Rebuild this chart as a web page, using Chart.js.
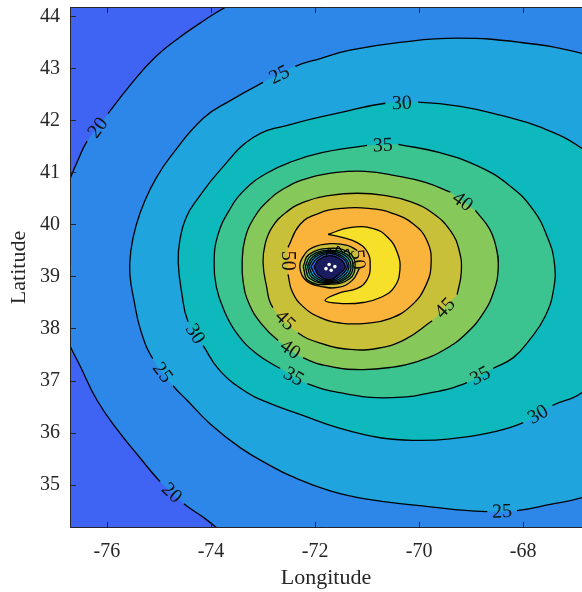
<!DOCTYPE html>
<html>
<head>
<meta charset="utf-8">
<script src="https://cdn.jsdelivr.net/npm/chart.js@4.4.1/dist/chart.umd.min.js"></script>
<style>
  html, body { margin: 0; padding: 0; background: #fff; }
  #wrap { width: 582px; height: 592px; }
</style>
</head>
<body>
<div id="wrap"><canvas id="contourChart"></canvas></div>
<script>
// contour lines (lon, lat); outer ones run outside the frame to close
const c20Lon = [-73.60, -73.87, -74.12, -74.52, -74.98, -75.37, -75.79, -76.19, -76.52, -76.71, -77.06, -77.17, -77.06, -76.71, -76.56, -76.38, -75.98, -75.56, -75.08, -74.60, -74.21, -73.92, -73.60, -73.06, -64.60, -64.60, -73.06, -73.60];
const c20Lat = [33.92, 34.15, 34.35, 34.63, 35.06, 35.52, 36.04, 36.62, 37.29, 37.67, 38.54, 39.27, 40.04, 40.88, 41.23, 41.60, 42.13, 42.67, 43.21, 43.60, 43.87, 44.06, 44.25, 44.60, 46.23, 30.85, 33.35, 33.92];

const c25Lon = [-62.48, -63.63, -65.56, -66.87, -67.48, -68.12, -68.69, -69.31, -70.04, -70.94, -71.71, -72.48, -72.87, -73.44, -74.02, -74.46, -74.73, -75.12, -75.35, -75.48, -75.56, -75.54, -75.44, -75.27, -75.06, -74.79, -74.15, -73.63, -73.00, -72.38, -71.90, -71.33, -70.37, -69.27, -68.06, -66.87, -65.56, -63.63, -62.48];
const c25Lat = [39.04, 36.46, 35.19, 34.75, 34.62, 34.50, 34.48, 34.52, 34.60, 34.71, 34.88, 35.17, 35.37, 35.71, 36.17, 36.62, 36.90, 37.42, 37.96, 38.54, 39.06, 39.50, 39.98, 40.46, 40.88, 41.29, 42.04, 42.38, 42.73, 43.04, 43.19, 43.35, 43.50, 43.58, 43.50, 43.29, 42.88, 41.62, 39.04];

const c30Lon = [-65.48, -65.94, -66.87, -67.44, -68.00, -68.63, -69.40, -70.04, -70.75, -71.52, -72.29, -72.87, -73.31, -73.83, -74.15, -74.44, -74.56, -74.63, -74.60, -74.46, -74.25, -73.83, -73.19, -72.48, -71.52, -70.65, -70.02, -69.21, -68.44, -67.67, -66.87, -66.13, -65.48];
const c30Lat = [39.12, 37.69, 36.77, 36.52, 36.19, 36.00, 35.88, 35.85, 35.90, 36.08, 36.35, 36.56, 36.77, 37.19, 37.67, 38.13, 38.67, 39.27, 39.69, 40.17, 40.50, 41.04, 41.67, 41.92, 42.15, 42.33, 42.35, 42.27, 42.10, 41.87, 41.46, 40.81, 39.12];

const c35Lon = [-70.40, -69.60, -68.87, -68.29, -67.83, -67.54, -67.40, -67.42, -67.58, -67.87, -68.19, -68.58, -69.08, -69.75, -70.52, -71.33, -72.15, -72.67, -73.13, -73.50, -73.75, -73.90, -73.94, -73.87, -73.65, -73.35, -72.94, -72.44, -71.87, -71.00];
const c35Lat = [41.54, 41.38, 41.12, 40.77, 40.31, 39.77, 39.25, 38.73, 38.23, 37.79, 37.44, 37.23, 36.96, 36.77, 36.67, 36.73, 36.94, 37.23, 37.52, 37.90, 38.35, 38.81, 39.29, 39.79, 40.27, 40.67, 40.98, 41.21, 41.38, 41.52];

const c40Lon = [-68.92, -68.65, -68.52, -68.48, -68.56, -68.77, -69.10, -69.50, -70.02, -70.56, -71.13, -71.71, -72.23, -72.71, -73.04, -73.27, -73.38, -73.40, -73.35, -73.19, -72.92, -72.56, -72.10, -71.58, -71.04, -70.46, -69.88, -69.40];
const c40Lat = [40.27, 39.92, 39.56, 39.17, 38.73, 38.29, 37.90, 37.60, 37.37, 37.25, 37.21, 37.27, 37.44, 37.77, 38.10, 38.48, 38.88, 39.31, 39.71, 40.10, 40.44, 40.71, 40.90, 41.00, 41.02, 40.94, 40.81, 40.62];

const c45Lon = [-69.27, -69.19, -69.23, -69.40, -69.73, -70.17, -70.67, -71.19, -71.71, -72.19, -72.56, -72.83, -72.96, -73.00, -72.94, -72.81, -72.33, -71.87, -71.33, -70.79, -70.27, -69.75];
const c45Lat = [38.65, 39.08, 39.50, 39.88, 40.21, 40.44, 40.56, 40.60, 40.56, 40.44, 40.23, 39.94, 39.62, 39.27, 38.85, 38.40, 37.92, 37.71, 37.60, 37.62, 37.79, 38.15];

const c50Lon = [-72.52, -72.44, -72.23, -71.90, -71.48, -71.02, -70.56, -70.15, -69.88, -69.77, -69.85, -70.10, -70.50, -70.98, -71.48, -71.94, -72.29, -72.52];
const c50Lat = [39.04, 38.71, 38.42, 38.21, 38.10, 38.10, 38.19, 38.44, 38.81, 39.25, 39.69, 40.00, 40.21, 40.31, 40.31, 40.21, 40.00, 39.56];

const c55Lon = [-71.75, -71.33, -70.88, -70.60, -70.42, -70.37, -70.48, -70.73, -71.08, -71.48, -71.81, -71.52, -71.19, -71.00, -70.94, -71.00, -71.19, -71.48, -71.75];
const c55Lat = [39.81, 39.94, 39.92, 39.75, 39.46, 39.12, 38.79, 38.60, 38.50, 38.48, 38.54, 38.69, 38.77, 38.94, 39.21, 39.48, 39.65, 39.75, 39.81];

// small loops around the low centre
const b50Lon = [-71.15, -71.29, -71.56, -71.90, -72.17, -72.29, -72.23, -72.04, -71.71, -71.38, -71.19];
const b50Lat = [39.15, 38.92, 38.79, 38.81, 38.92, 39.15, 39.38, 39.56, 39.63, 39.60, 39.50];
const b45Lon = [-72.23, -72.12, -71.73, -71.35, -71.23, -71.33, -71.73, -72.13, -72.23];
const b45Lat = [39.19, 39.42, 39.54, 39.46, 39.23, 38.96, 38.85, 38.92, 39.19];
const b40Lon = [-72.19, -72.08, -71.73, -71.38, -71.27, -71.37, -71.73, -72.10, -72.19];
const b40Lat = [39.19, 39.40, 39.50, 39.42, 39.21, 38.98, 38.87, 38.96, 39.19];
const b35Lon = [-72.15, -72.04, -71.73, -71.42, -71.31, -71.40, -71.73, -72.06, -72.15];
const b35Lat = [39.19, 39.38, 39.48, 39.40, 39.21, 39.00, 38.88, 38.98, 39.19];
const b30Lon = [-72.12, -72.00, -71.73, -71.46, -71.35, -71.44, -71.73, -72.02, -72.12];
const b30Lat = [39.19, 39.37, 39.46, 39.38, 39.21, 39.02, 38.90, 39.00, 39.19];
const b25Lon = [-72.08, -71.96, -71.73, -71.50, -71.38, -71.48, -71.73, -71.98, -72.08];
const b25Lat = [39.19, 39.35, 39.44, 39.37, 39.21, 39.04, 38.92, 39.02, 39.19];
const b10Lon = [-72.02, -71.92, -71.73, -71.54, -71.42, -71.52, -71.73, -71.94, -72.02];
const b10Lat = [39.19, 39.33, 39.40, 39.35, 39.19, 39.06, 38.94, 39.04, 39.19];

// ragged bits of line on top of the low centre, and the white specks inside it
const spikeLon = [-71.79, -71.73, -71.63, -71.56, -71.46, -71.37, -71.33];
const spikeLat = [39.38, 39.54, 39.44, 39.58, 39.46, 39.52, 39.37];
const speckLon = [-71.79, -71.69, -71.62, -71.73];
const speckLat = [39.15, 39.12, 39.19, 39.23];

// contour label positions: which contour, where
const labelContour = [0, 0, 1, 1, 1, 2, 2, 2, 3, 3, 3, 4, 4, 5, 5, 6, 8];
const labelLon = [-76.19, -74.75, -72.69, -74.92, -68.40, -70.35, -74.31, -67.73, -70.71, -72.42, -68.83, -69.17, -72.48, -72.58, -69.50, -72.52, -71.17];
const labelLat = [41.87, 34.85, 42.88, 37.15, 34.48, 42.35, 37.90, 36.37, 41.52, 37.08, 37.10, 40.44, 37.62, 38.15, 38.40, 39.31, 39.33];

const xTicks = [-76, -74, -72, -70, -68];
const yTicks = [35, 36, 37, 38, 39, 40, 41, 42, 43, 44];

const bgColor = '#3f63f3';
const contours = [
  { level: 20, lon: c20Lon, lat: c20Lat, color: '#2d87e9' },
  { level: 25, lon: c25Lon, lat: c25Lat, color: '#1fa4dd' },
  { level: 30, lon: c30Lon, lat: c30Lat, color: '#0db9bd' },
  { level: 35, lon: c35Lon, lat: c35Lat, color: '#3cc490' },
  { level: 40, lon: c40Lon, lat: c40Lat, color: '#86c95a' },
  { level: 45, lon: c45Lon, lat: c45Lat, color: '#c9c03a' },
  { level: 50, lon: c50Lon, lat: c50Lat, color: '#fab43c' },
  { level: 55, lon: c55Lon, lat: c55Lat, color: '#f6e02a' },
  { level: 50, lon: b50Lon, lat: b50Lat, color: '#c9c03a' },
  { level: 45, lon: b45Lon, lat: b45Lat, color: '#86c95a' },
  { level: 40, lon: b40Lon, lat: b40Lat, color: '#3cc490' },
  { level: 35, lon: b35Lon, lat: b35Lat, color: '#0db9bd' },
  { level: 30, lon: b30Lon, lat: b30Lat, color: '#1fa4dd' },
  { level: 25, lon: b25Lon, lat: b25Lat, color: '#3565e8' },
  { level: 10, lon: b10Lon, lat: b10Lat, color: '#1a1c60' }
];
const N = contours.length;

function toXY(lon, lat) {
  return lon.map((v, i) => ({ x: v, y: lat[i] }));
}

// hide the bit of line under an inline label
function gapColor(c) {
  const ci = c.datasetIndex - N;
  const sx = c.chart.scales.x, sy = c.chart.scales.y;
  const mx = (c.p0.x + c.p1.x) / 2, my = (c.p0.y + c.p1.y) / 2;
  for (let k = 0; k < labelContour.length; k++) {
    if (labelContour[k] !== ci) continue;
    const d = Math.hypot(mx - sx.getPixelForValue(labelLon[k]), my - sy.getPixelForValue(labelLat[k]));
    if (d < 12) return 'rgba(0,0,0,0)';
  }
  return undefined;
}

const datasets = [];
contours.forEach((c, i) => {
  datasets.push({
    data: toXY(c.lon, c.lat),
    showLine: true, fill: 'shape', tension: 0.45,
    backgroundColor: c.color, borderColor: 'rgba(0,0,0,0)', borderWidth: 0,
    pointRadius: 0, pointHoverRadius: 0, order: 1000 - i
  });
});
contours.forEach((c, i) => {
  datasets.push({
    data: toXY(c.lon, c.lat),
    showLine: true, fill: false, tension: 0.45,
    borderColor: '#000', borderWidth: 1.3,
    pointRadius: 0, pointHoverRadius: 0, order: 10,
    segment: { borderColor: gapColor }
  });
});
datasets.push({
  data: toXY(spikeLon, spikeLat),
  showLine: true, fill: false, tension: 0.3,
  borderColor: '#000', borderWidth: 1.3,
  pointRadius: 0, pointHoverRadius: 0, order: 5
});
datasets.push({
  data: toXY(speckLon, speckLat),
  showLine: false, pointRadius: 1.8, pointHoverRadius: 0,
  pointBackgroundColor: '#fff', pointBorderWidth: 0, order: 0
});

const framePlugin = {
  id: 'frame',
  beforeDatasetsDraw(chart) {
    const { ctx, chartArea: a } = chart;
    ctx.save();
    ctx.fillStyle = bgColor;
    ctx.fillRect(a.left, a.top, a.right - a.left, a.bottom - a.top);
    ctx.restore();
  },
  afterDraw(chart) {
    const { ctx, chartArea: a, scales: { x, y } } = chart;
    ctx.save();
    ctx.strokeStyle = '#262626';
    ctx.lineWidth = 1;
    ctx.beginPath();
    ctx.moveTo(a.right + 1, a.top + 0.5); ctx.lineTo(a.left + 0.5, a.top + 0.5);
    ctx.lineTo(a.left + 0.5, a.bottom - 0.5); ctx.lineTo(a.right + 1, a.bottom - 0.5);
    xTicks.forEach(v => {
      const px = Math.round(x.getPixelForValue(v)) + 0.5;
      ctx.moveTo(px, a.bottom); ctx.lineTo(px, a.bottom - 6);
      ctx.moveTo(px, a.top); ctx.lineTo(px, a.top + 6);
    });
    yTicks.forEach(v => {
      const py = Math.round(y.getPixelForValue(v)) + 0.5;
      ctx.moveTo(a.left, py); ctx.lineTo(a.left + 6, py);
    });
    ctx.stroke();
    ctx.restore();
  }
};

const labelPlugin = {
  id: 'contourLabels',
  afterDatasetsDraw(chart) {
    const { ctx, scales: { x, y } } = chart;
    ctx.save();
    ctx.font = '20px "Liberation Serif"';
    ctx.fillStyle = '#111';
    ctx.textAlign = 'center';
    ctx.textBaseline = 'middle';
    labelContour.forEach((ci, k) => {
      const pts = chart.getDatasetMeta(N + ci).data;
      const lx = x.getPixelForValue(labelLon[k]), ly = y.getPixelForValue(labelLat[k]);
      let best = null, bd = Infinity;
      for (let i = 0; i < pts.length; i++) {
        const p = pts[i], q = pts[(i + 1) % pts.length];
        const mx = (p.x + q.x) / 2, my = (p.y + q.y) / 2;
        const d = Math.hypot(mx - lx, my - ly);
        if (d < bd) { bd = d; best = { p, q, mx, my }; }
      }
      let ang = Math.atan2(best.q.y - best.p.y, best.q.x - best.p.x);
      if (ang > Math.PI / 2) ang -= Math.PI;
      if (ang <= -Math.PI / 2) ang += Math.PI;
      ctx.save();
      ctx.translate(best.mx, best.my);
      ctx.rotate(ang);
      ctx.fillText(String(contours[ci].level), 0, 1);
      ctx.restore();
    });
    ctx.restore();
  }
};

Chart.defaults.font.family = "'Liberation Serif', 'Times New Roman', serif";

new Chart(document.getElementById('contourChart'), {
  type: 'scatter',
  data: { datasets },
  options: {
    responsive: true,
    maintainAspectRatio: false,
    animation: false,
    events: [],
    layout: { autoPadding: false, padding: { top: 7, right: 0, left: 0, bottom: 0 } },
    elements: { line: { capBezierPoints: false } },
    plugins: { legend: { display: false }, tooltip: { enabled: false } },
    scales: {
      x: {
        type: 'linear', min: -76.71, max: -66.87,
        afterBuildTicks: s => { s.ticks = xTicks.map(v => ({ value: v })); },
        afterFit: s => { s.height = 64; s.paddingLeft = 0; s.paddingRight = 0; },
        grid: { display: false, drawTicks: false },
        border: { display: false },
        ticks: { color: '#262626', font: { size: 20 }, padding: 12, maxRotation: 0, autoSkip: false },
        title: { display: true, text: 'Longitude', color: '#262626', font: { size: 22 }, padding: { top: 0, bottom: 1 } }
      },
      y: {
        type: 'linear', min: 34.165, max: 44.18,
        afterBuildTicks: s => { s.ticks = yTicks.map(v => ({ value: v })); },
        afterFit: s => { s.width = 70; s.paddingTop = 0; s.paddingBottom = 0; },
        grid: { display: false, drawTicks: false },
        border: { display: false },
        ticks: { color: '#262626', font: { size: 20 }, padding: 10, autoSkip: false },
        title: { display: true, text: 'Latitude', color: '#262626', font: { size: 22 }, padding: { top: 6, bottom: 0 } }
      }
    }
  },
  plugins: [framePlugin, labelPlugin]
});
</script>
</body>
</html>
